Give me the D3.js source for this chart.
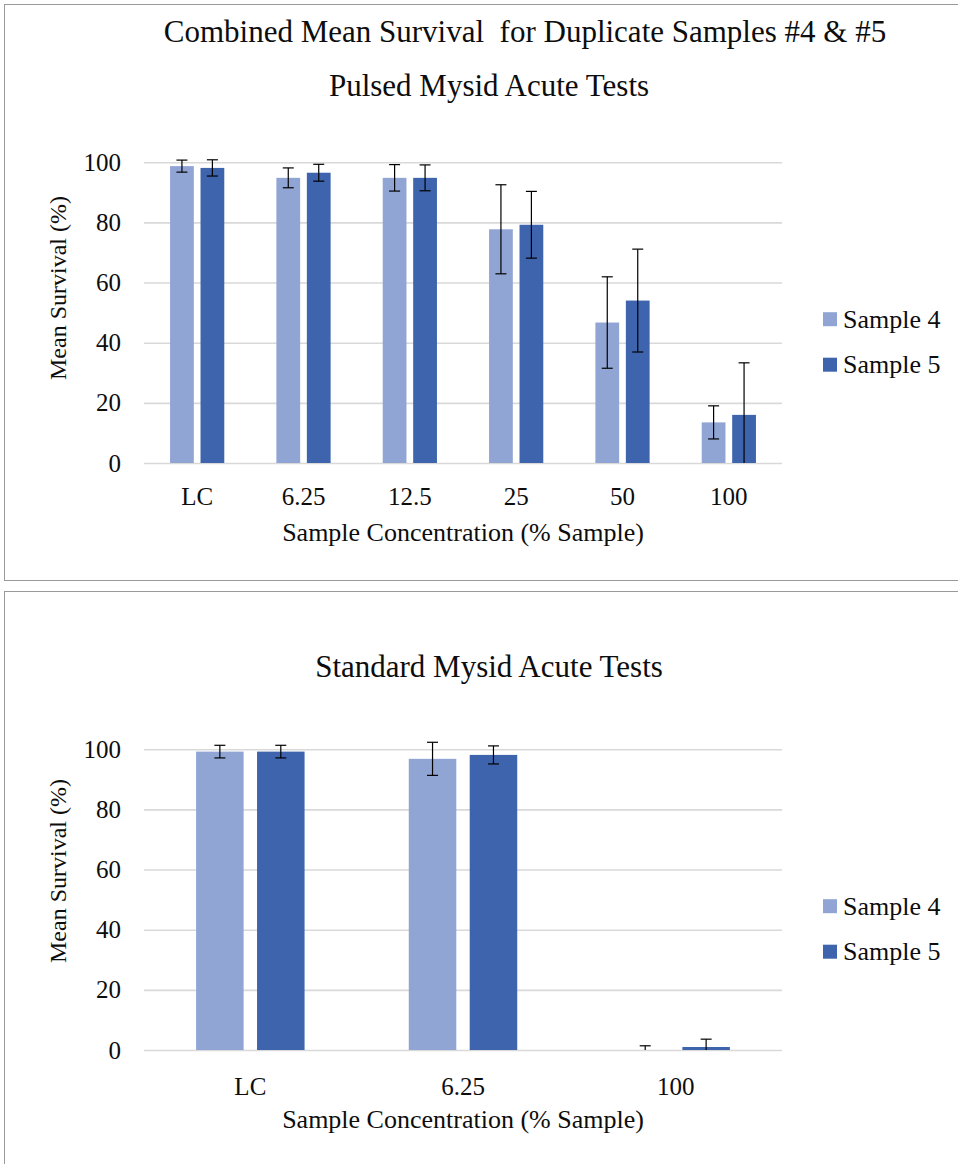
<!DOCTYPE html>
<html>
<head>
<meta charset="utf-8">
<script src="https://cdn.jsdelivr.net/npm/d3@7/dist/d3.min.js"></script>
<style>
  html, body { margin: 0; padding: 0; background: #fff; }
  svg { display: block; }
  text { font-family: "Liberation Serif", "Times New Roman", serif; fill: #0d0d0d; white-space: pre; }
</style>
</head>
<body>
<svg id="chart" width="958" height="1164"></svg>
<script>
// Series and categories
const seriesNames = ["Sample 4", "Sample 5"];
const seriesColors = ["#91a5d5", "#3d64ad"];
const yTicks = [0, 20, 40, 60, 80, 100];

// Pulsed tests: mean survival (%) and standard deviation
const pulsedCategories = ["LC", "6.25", "12.5", "25", "50", "100"];
const pulsedSample4 = [98.7, 94.8, 94.8, 77.7, 46.7, 13.5];
const pulsedSample5 = [98.1, 96.5, 94.8, 79.2, 54.0, 16.0];
const pulsedSample4Err = [2.0, 3.3, 4.4, 14.8, 15.2, 5.5];
const pulsedSample5Err = [2.7, 2.8, 4.3, 11.1, 17.1, 17.3];

// Standard tests: mean survival (%) and standard deviation
const standardCategories = ["LC", "6.25", "100"];
const standardSample4 = [99.2, 96.8, 0];
const standardSample5 = [99.2, 98.1, 1.0];
const standardSample4Err = [2.1, 5.5, 1.4];
const standardSample5Err = [2.1, 3.0, 2.6];

const titleTop = ["Combined Mean Survival  for Duplicate Samples #4 & #5", "Pulsed Mysid Acute Tests"];
const titleBottom = ["Standard Mysid Acute Tests"];
const xAxisTitle = "Sample Concentration (% Sample)";
const yAxisTitle = "Mean Survival (%)";

const svg = d3.select("#chart");

function drawPanel(opts) {
  const { top, boxHeight, titles, categories, s4, s5, e4, e5 } = opts;
  const g = svg.append("g").attr("transform", `translate(0,${top})`);

  // panel frame
  g.append("rect")
    .attr("x", 4.5).attr("y", 0.5)
    .attr("width", 1000).attr("height", boxHeight)
    .attr("fill", "#fff").attr("stroke", "#9a9a9a").attr("stroke-width", 1);

  // titles
  titles.forEach(t => {
    g.append("text")
      .attr("x", t.x).attr("y", t.y)
      .attr("text-anchor", "middle")
      .style("font-size", "31px")
      .text(t.text);
  });

  const left = 144, right = 782;
  const y0px = 459, y100px = 158.2;

  const x0 = d3.scaleBand().domain(categories).range([left, right])
    .paddingInner(0.49).paddingOuter(0.245);
  const x1 = d3.scaleBand().domain(seriesNames).range([0, x0.bandwidth()])
    .paddingInner(0.22);
  const y = d3.scaleLinear().domain([0, 100]).range([y0px, y100px]);

  // gridlines
  const grid = g.append("g").attr("transform", `translate(${left},0)`)
    .call(d3.axisLeft(y).tickValues(yTicks).tickSize(-(right - left)).tickFormat(""));
  grid.select(".domain").remove();
  grid.selectAll("line").attr("stroke", "#d9d9d9").attr("stroke-width", 1.6);

  // y tick labels
  const yAxis = g.append("g").attr("transform", `translate(${left},0)`)
    .call(d3.axisLeft(y).tickValues(yTicks).tickSize(0).tickPadding(23));
  yAxis.select(".domain").remove();
  yAxis.selectAll("text").style("font-size", "25px").attr("fill", "#0d0d0d")
    .style("font-family", "'Liberation Serif', serif");

  // x tick labels
  const xAxis = g.append("g").attr("transform", `translate(0,${y0px})`)
    .call(d3.axisBottom(x0).tickSize(0).tickPadding(opts.xPad));
  xAxis.select(".domain").remove();
  xAxis.selectAll("text").style("font-size", "25px").attr("fill", "#0d0d0d")
    .style("font-family", "'Liberation Serif', serif");

  // axis titles
  g.append("text")
    .attr("x", (left + right) / 2).attr("y", y0px + 78)
    .attr("text-anchor", "middle")
    .style("font-size", "26px")
    .text(xAxisTitle);
  g.append("text")
    .attr("transform", `translate(66,${opts.yTitleY}) rotate(-90)`)
    .attr("text-anchor", "middle")
    .style("font-size", "24px")
    .text(yAxisTitle);

  // bars
  const rows = categories.map((c, i) => ({
    cat: c,
    vals: [
      { s: seriesNames[0], v: s4[i], e: e4[i], color: seriesColors[0] },
      { s: seriesNames[1], v: s5[i], e: e5[i], color: seriesColors[1] }
    ]
  }));

  const groups = g.append("g").selectAll("g").data(rows).join("g")
    .attr("transform", d => `translate(${x0(d.cat)},0)`);

  groups.selectAll("rect").data(d => d.vals).join("rect")
    .attr("x", d => x1(d.s))
    .attr("y", d => y(d.v))
    .attr("width", x1.bandwidth())
    .attr("height", d => y(0) - y(d.v))
    .attr("fill", d => d.color);

  // error bars (clipped at the baseline)
  const capW = 11;
  const eb = groups.selectAll("g.err").data(d => d.vals).join("g").attr("class", "err")
    .attr("transform", d => `translate(${x1(d.s) + x1.bandwidth() / 2},0)`);
  eb.append("line")
    .attr("x1", 0).attr("x2", 0)
    .attr("y1", d => y(d.v + d.e))
    .attr("y2", d => y(Math.max(0, d.v - d.e)))
    .attr("stroke", "#000").attr("stroke-width", 1.2);
  eb.append("line")
    .attr("x1", -capW / 2).attr("x2", capW / 2)
    .attr("y1", d => y(d.v + d.e)).attr("y2", d => y(d.v + d.e))
    .attr("stroke", "#000").attr("stroke-width", 1.2);
  eb.filter(d => d.v - d.e >= 0).append("line")
    .attr("x1", -capW / 2).attr("x2", capW / 2)
    .attr("y1", d => y(d.v - d.e)).attr("y2", d => y(d.v - d.e))
    .attr("stroke", "#000").attr("stroke-width", 1.2);

  // legend
  const legend = g.append("g").selectAll("g").data(seriesNames).join("g")
    .attr("transform", (d, i) => `translate(823,${y100px + 157 + i * 45.5})`);
  legend.append("rect")
    .attr("x", 0).attr("y", -7).attr("width", 14).attr("height", 14)
    .attr("fill", (d, i) => seriesColors[i]);
  legend.append("text")
    .attr("x", 20).attr("y", 8.5)
    .style("font-size", "26px")
    .text(d => d);
}

drawPanel({
  top: 4, boxHeight: 576,
  titles: [
    { text: titleTop[0], x: 525, y: 38 },
    { text: titleTop[1], x: 489, y: 91.5 }
  ],
  categories: pulsedCategories,
  s4: pulsedSample4, s5: pulsedSample5, e4: pulsedSample4Err, e5: pulsedSample5Err,
  yTitleY: 284, xPad: 24
});

drawPanel({
  top: 591, boxHeight: 600,
  titles: [
    { text: titleBottom[0], x: 489, y: 677 - 591 }
  ],
  categories: standardCategories,
  s4: standardSample4, s5: standardSample5, e4: standardSample4Err, e5: standardSample5Err,
  yTitleY: 280, xPad: 27
});
</script>
</body>
</html>
